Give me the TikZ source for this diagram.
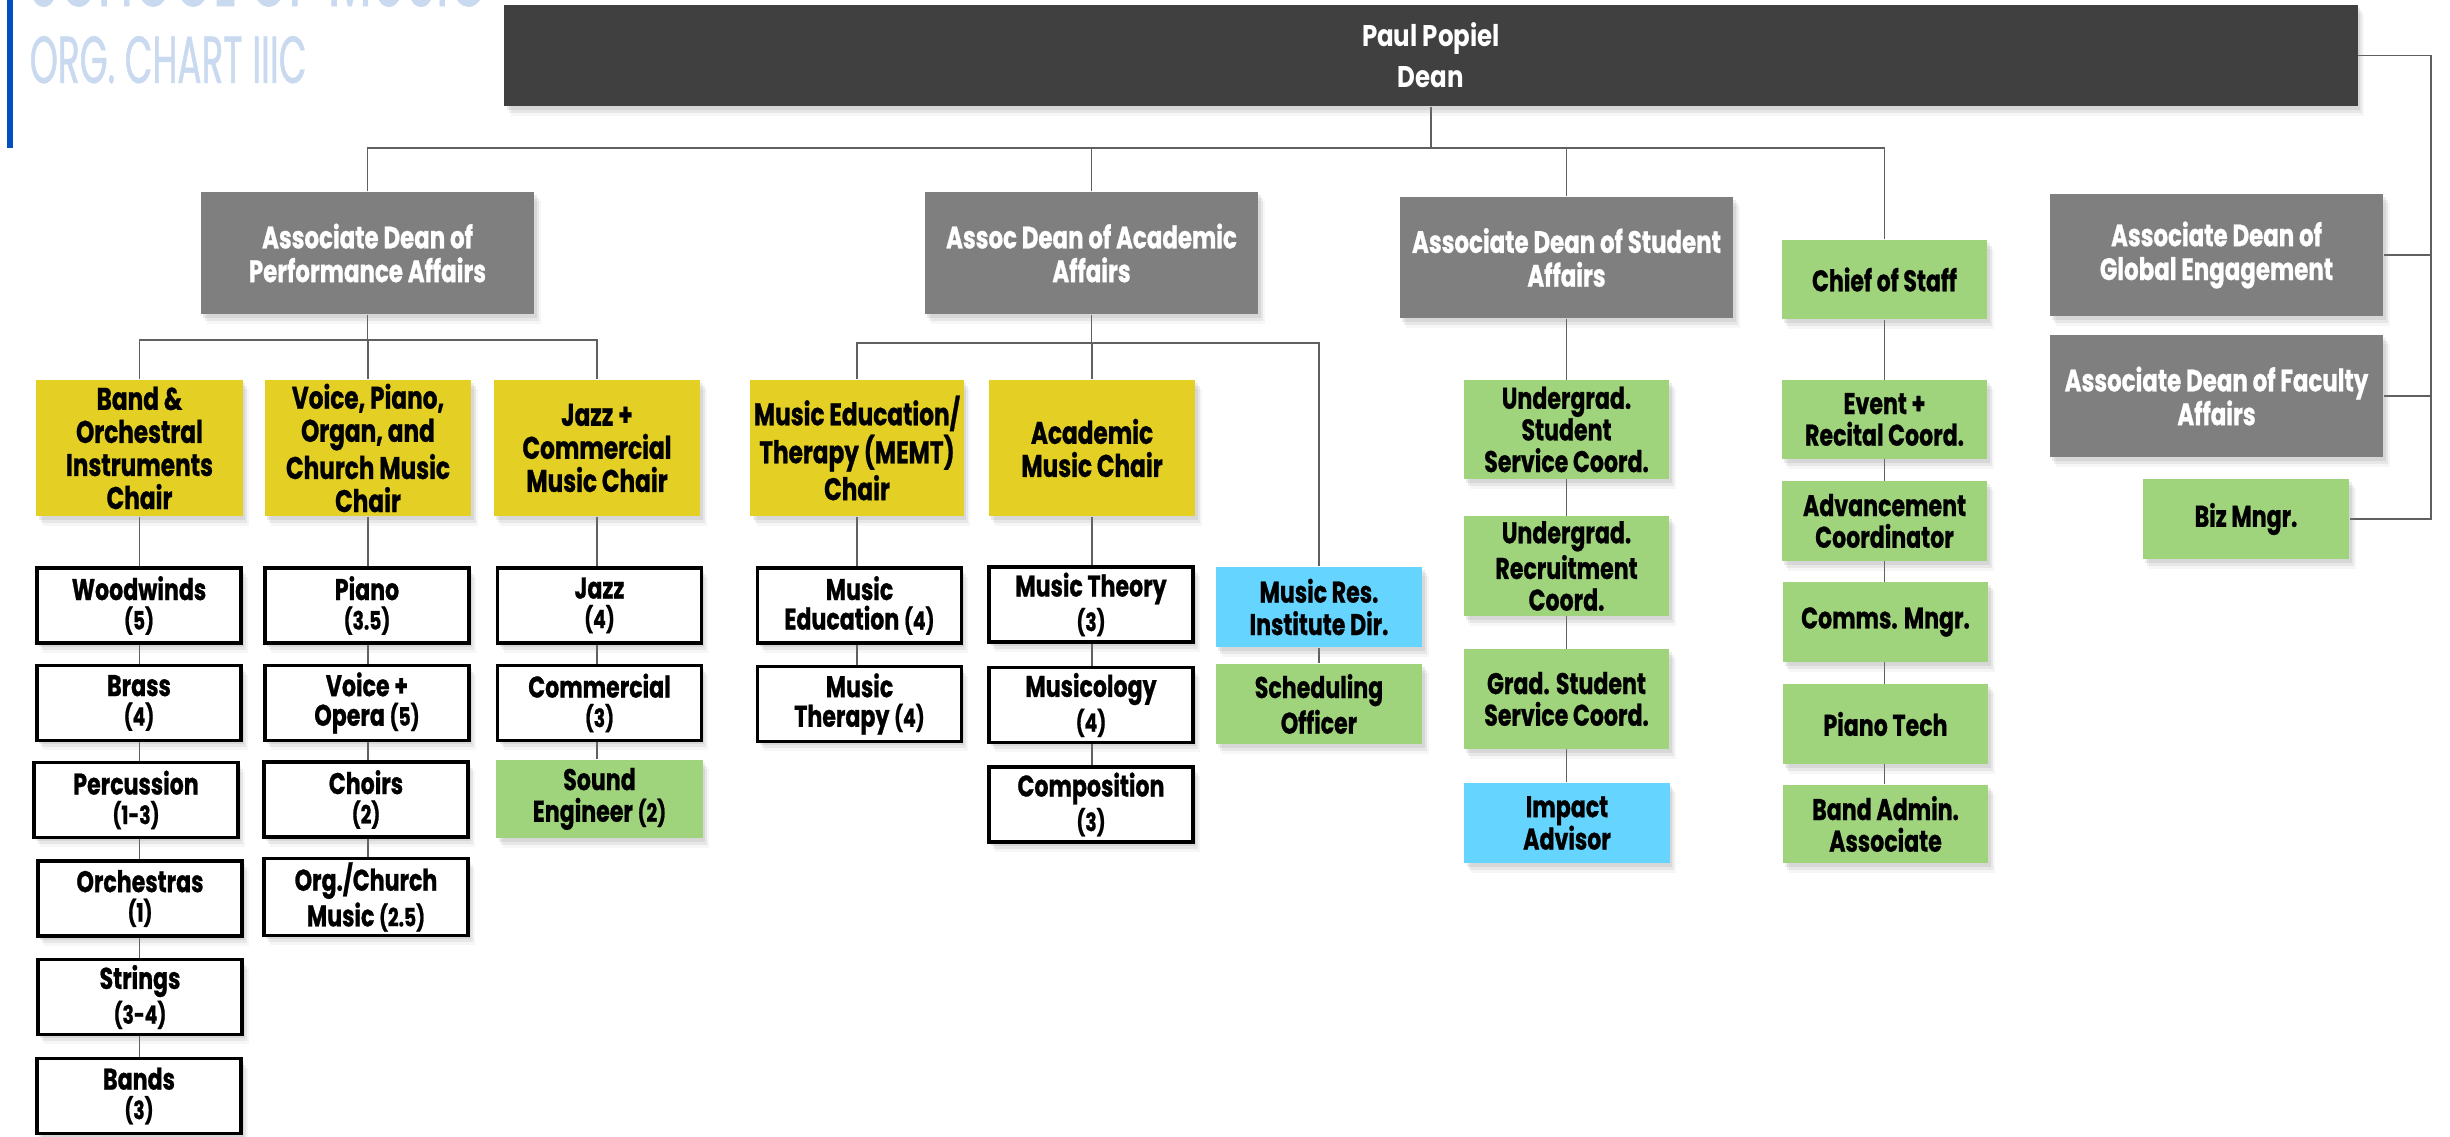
\documentclass[tikz,border=0pt]{standalone}
\usepackage{fontspec}
\usepackage{graphicx}
\usetikzlibrary{shadows,backgrounds}
\newfontfamily\boxfont{Poppins}[FakeStretch=0.74, BoldFeatures={FakeBold=0.8}]
\newfontfamily\deanfont{Poppins}[FakeStretch=0.82]
\newfontfamily\titlefont{Poppins}[FakeStretch=0.54, FakeBold=0.7]
\definecolor{deancol}{HTML}{404040}
\definecolor{graycol}{HTML}{7F7F7F}
\definecolor{yellowcol}{HTML}{E4CF24}
\definecolor{greencol}{HTML}{9FD37C}
\definecolor{bluecol}{HTML}{65D4FE}
\definecolor{titlecol}{HTML}{C9DAF0}
\definecolor{barcol}{HTML}{0050BF}
\definecolor{linecol}{HTML}{606060}
\newcommand{\nsz}{\fontsize{7.2}{8}\selectfont}
\tikzset{
  shadowed/.style={
    drop shadow={shadow xshift=0.25mm, shadow yshift=-0.35mm, opacity=0.15},
    drop shadow={shadow xshift=0.45mm, shadow yshift=-0.65mm, opacity=0.12},
    drop shadow={shadow xshift=0.65mm, shadow yshift=-0.95mm, opacity=0.07}},
  basebox/.style={rectangle, inner sep=1pt, align=center, shadowed},
  deanbox/.style={basebox, fill=deancol, text=white, font=\deanfont\bfseries\fontsize{8.5}{11.7}\selectfont},
  graybox/.style={basebox, fill=graycol, text=white, minimum width=3.33cm, minimum height=1.22cm, font=\boxfont\bfseries\fontsize{8.8}{9.6}\selectfont},
  chairbox/.style={basebox, fill=yellowcol, text=black, minimum width=2.06cm, minimum height=1.36cm, font=\boxfont\bfseries\fontsize{8.9}{9.4}\selectfont},
  greenbox/.style={basebox, fill=greencol, text=black, minimum width=2.05cm, minimum height=0.8cm, font=\boxfont\bfseries\fontsize{8.5}{9.0}\selectfont},
  bluebox/.style={basebox, fill=bluecol, text=black, minimum width=2.06cm, minimum height=0.8cm, font=\boxfont\bfseries\fontsize{8.5}{9.2}\selectfont},
  whitebox/.style={basebox, fill=white, draw=black, line width=0.9pt, text=black, minimum width=2.04cm, minimum height=0.75cm, font=\boxfont\bfseries\fontsize{8.5}{8.4}\selectfont},
  conn/.style={draw=linecol, line width=0.55pt}
}
\begin{document}
\begin{tikzpicture}[x=0.01cm, y=-0.01cm]
\useasboundingbox (0,0) rectangle (2450,1137);
\begin{scope}[on background layer]
  \fill[white] (0,0) rectangle (2450,1137);
\end{scope}

% title
\fill[barcol] (7,0) rectangle (13,148);
\begin{scope}
  \clip (0,0) rectangle (2450,1137);
  \node[anchor=base west, inner sep=0, text=titlecol, font=\titlefont\fontsize{26.8}{30}\selectfont] (school) at (28,6) {SCHOOL OF MUSIC};
\end{scope}
\node[anchor=base west, inner sep=0, text=titlecol, font=\titlefont\fontsize{18.9}{22}\selectfont] (orgchart) at (29,83) {ORG. CHART IIIC};

% top level
\node[deanbox, minimum width=18.52cm, minimum height=1.01cm] (dean) at (1431,55.5) {Paul Popiel\\Dean};

% associate deans
\node[graybox] (perf) at (367.5,253) {Associate Dean of\\Performance Affairs};
\node[graybox] (acad) at (1091.5,253) {Assoc Dean of Academic\\Affairs};
\node[graybox, minimum height=1.21cm] (student) at (1566.5,257.5) {Associate Dean of Student\\Affairs};
\node[greenbox, minimum height=0.79cm] (chief) at (1884.5,279.5) {Chief of Staff};
\node[graybox] (global) at (2216.5,255) {Associate Dean of\\Global Engagement};
\node[graybox] (faculty) at (2216.5,396) {Associate Dean of Faculty\\Affairs};
\node[greenbox, minimum width=2.06cm] (biz) at (2246,519) {Biz Mngr.};

% chairs
\node[chairbox] (band) at (139.5,448) {Band \&\\Orchestral\\Instruments\\Chair};
\node[chairbox] (voice) at (368,448) {Voice, Piano,\\Organ, and\\Church Music\\Chair};
\node[chairbox] (jazzc) at (597,448) {Jazz +\\Commercial\\Music Chair};
\node[chairbox] (memt) at (857,448) {Music Education/\\Therapy (MEMT)\\Chair};
\node[chairbox] (acmus) at (1092,448) {Academic\\Music Chair};

% performance columns
\node[whitebox] (woodw) at (139,605.5) {Woodwinds\\{\nsz (5)}};
\node[whitebox] (brass) at (139,703) {Brass\\{\nsz (4)}};
\node[whitebox] (perc) at (136,800) {Percussion\\{\nsz (1-3)}};
\node[whitebox] (orch) at (140,898.5) {Orchestras\\{\nsz (1)}};
\node[whitebox] (strings) at (140,997) {Strings\\{\nsz (3-4)}};
\node[whitebox] (bands) at (139,1096) {Bands\\{\nsz (3)}};

\node[whitebox] (piano) at (367,605.5) {Piano\\{\nsz (3.5)}};
\node[whitebox] (vopera) at (367,703) {Voice +\\Opera {\nsz (5)}};
\node[whitebox] (choirs) at (366,799.5) {Choirs\\{\nsz (2)}};
\node[whitebox] (orgch) at (366,897) {Org./Church\\Music {\nsz (2.5)}};

\node[whitebox] (jazz) at (599.5,605.5) {Jazz\\{\nsz (4)}};
\node[whitebox] (comm) at (599.5,703) {Commercial\\{\nsz (3)}};
\node[greenbox, minimum width=2.06cm, minimum height=0.78cm] (sound) at (599.5,799) {Sound\\Engineer {\nsz (2)}};

% academic columns
\node[whitebox] (mused) at (859.5,605.5) {Music\\Education {\nsz (4)}};
\node[whitebox] (muther) at (859.5,704) {Music\\Therapy {\nsz (4)}};
\node[whitebox] (theory) at (1091,604.5) {Music Theory\\{\nsz (3)}};
\node[whitebox] (musicol) at (1091,705) {Musicology\\{\nsz (4)}};
\node[whitebox] (compo) at (1091,804.5) {Composition\\{\nsz (3)}};
\node[bluebox] (musres) at (1319,607) {Music Res.\\Institute Dir.};
\node[greenbox, minimum width=2.06cm] (sched) at (1319,704) {Scheduling\\Officer};

% student affairs column
\node[greenbox, minimum height=0.99cm] (uss) at (1566.5,429.5) {Undergrad.\\Student\\Service Coord.};
\node[greenbox, minimum height=1.0cm] (urc) at (1566.5,566) {Undergrad.\\Recruitment\\Coord.};
\node[greenbox, minimum height=1.0cm] (grad) at (1566.5,699) {Grad. Student\\Service Coord.};
\node[bluebox, minimum width=2.05cm] (impact) at (1567,823) {Impact\\Advisor};

% chief of staff column
\node[greenbox, minimum height=0.79cm] (event) at (1884.5,419.5) {Event +\\Recital Coord.};
\node[greenbox] (adv) at (1884.5,521) {Advancement\\Coordinator};
\node[greenbox] (comms) at (1885.5,622) {Comms. Mngr.};
\node[greenbox] (ptech) at (1885.5,724) {Piano Tech};
\node[greenbox, minimum height=0.78cm] (badmin) at (1885.5,824) {Band Admin.\\Associate};

% connectors
\begin{scope}[on background layer]
  \coordinate (busA) at (0,148);
  \coordinate (busR) at (2431,0);
  \coordinate (busP) at (0,340);
  \coordinate (busQ) at (0,343);
  \draw[conn] (dean.south) -- (dean.south |- busA);
  \draw[conn] (perf.north) -- (perf.north |- busA) -- (chief.north |- busA) -- (chief.north);
  \draw[conn] (acad.north) -- (acad.north |- busA);
  \draw[conn] (student.north) -- (student.north |- busA);
  \draw[conn] (dean.east) -- (dean.east -| busR) -- (biz.east -| busR) -- (biz.east);
  \draw[conn] (global.east) -- (global.east -| busR);
  \draw[conn] (faculty.east) -- (faculty.east -| busR);
  \draw[conn] (perf.south) -- (perf.south |- busP);
  \draw[conn] (band.north) -- (band.north |- busP) -- (jazzc.north |- busP) -- (jazzc.north);
  \draw[conn] (voice.north) -- (voice.north |- busP);
  \draw[conn] (band.south) -- (band.south |- bands.north);
  \draw[conn] (voice.south) -- (voice.south |- orgch.north);
  \draw[conn] (jazzc.south) -- (jazzc.south |- sound.north);
  \draw[conn] (acad.south) -- (acad.south |- busQ);
  \draw[conn] (memt.north) -- (memt.north |- busQ) -- (musres.north |- busQ) -- (musres.north);
  \draw[conn] (acmus.north) -- (acmus.north |- busQ);
  \draw[conn] (memt.south) -- (memt.south |- muther.north);
  \draw[conn] (acmus.south) -- (acmus.south |- compo.north);
  \draw[conn] (musres.south) -- (sched.north);
  \draw[conn] (student.south) -- (student.south |- impact.north);
  \draw[conn] (chief.south) -- (chief.south |- badmin.north);
\end{scope}
\end{tikzpicture}
\end{document}
